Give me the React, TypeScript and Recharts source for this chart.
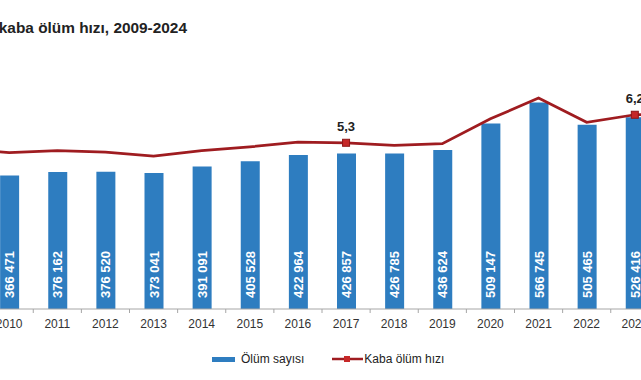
import React from "react";
import { ComposedChart, Bar, Line, XAxis, YAxis, LabelList } from "recharts";

document.body.style.margin = "0";

/* ---------- data ---------- */
const years = [
  "2009", "2010", "2011", "2012", "2013", "2014", "2015", "2016",
  "2017", "2018", "2019", "2020", "2021", "2022", "2023", "2024",
];
// Ölüm sayısı (2009 and 2024 are outside the visible crop, estimated)
const deaths = [
  368390, 366471, 376162, 376520, 373041, 391091, 405528, 422964,
  426857, 426785, 436624, 509147, 566745, 505465, 526416, 532000,
];
// Kaba ölüm hızı (binde)
const crudeRate = [
  5.08, 4.97, 5.03, 4.98, 4.86, 5.03, 5.15, 5.3,
  5.28, 5.2, 5.25, 6.04, 6.7, 5.93, 6.17, 6.2,
];
const labelledYears = ["2017", "2023"];

const data = years.map((year, i) => ({
  year,
  deaths: deaths[i],
  rate: crudeRate[i],
  rateLabel: labelledYears.includes(year) ? crudeRate[i] : null,
}));

/* ---------- layout ---------- */
const FONT = "'Liberation Sans', Arial, sans-serif";
const CHART_W = 770;
const CHART_LEFT = -63;
const BAND = CHART_W / years.length;
const BAR_BLUE = "#2e7dc0";
const LINE_RED = "#9f1c20";
const MARK_RED = "#c62828";

const fmtThousands = (v: number) =>
  String(v).replace(/\B(?=(\d{3})+(?!\d))/g, " ");

/* ---------- custom pieces ---------- */
const YearTick = (props: any) => {
  const { x, y, payload } = props;
  const tx = x - BAND / 2;
  return (
    <g>
      <line x1={tx} x2={tx} y1={y - 6} y2={y - 2} stroke="#a6a6a6" />
      <text
        x={x}
        y={y + 13}
        textAnchor="middle"
        fontSize={12}
        fontFamily={FONT}
        fill="#333"
      >
        {payload.value}
      </text>
    </g>
  );
};

const DeathsLabel = (props: any) => {
  const vb = props.viewBox ?? props;
  const { x, y, width, height } = vb;
  const cx = x + width / 2;
  const by = y + height - 11;
  return (
    <text
      x={cx}
      y={by}
      transform={`rotate(-90 ${cx} ${by})`}
      textAnchor="start"
      dominantBaseline="central"
      fill="#fff"
      fontSize={13}
      fontWeight="bold"
      fontFamily={FONT}
    >
      {fmtThousands(props.value)}
    </text>
  );
};

const RateLabel = (props: any) => {
  const { x, y, value } = props;
  if (value == null) return null;
  return (
    <text
      x={x}
      y={y - 12}
      textAnchor="middle"
      fill="#222"
      fontSize={13}
      fontWeight="bold"
      fontFamily={FONT}
    >
      {Number(value).toFixed(1).replace(".", ",")}
    </text>
  );
};

const RateDot = (props: any) => {
  const { cx, cy, payload, index } = props;
  if (!labelledYears.includes(payload.year)) return <g key={`d${index}`} />;
  return (
    <rect
      key={`d${index}`}
      x={cx - 3.5}
      y={cy - 3.5}
      width={7}
      height={7}
      fill={MARK_RED}
      stroke="#8e1616"
      strokeWidth={1}
    />
  );
};

const ChartLegend = () => (
  <div
    style={{
      position: "absolute",
      left: 212,
      top: 351,
      display: "flex",
      alignItems: "center",
      fontFamily: FONT,
      fontSize: 12,
      color: "#222",
      height: 16,
    }}
  >
    <span style={{ width: 23, height: 5, background: BAR_BLUE, marginRight: 6 }} />
    <span>Ölüm sayısı</span>
    <svg width={31} height={8} style={{ marginLeft: 28, marginRight: 1 }}>
      <line x1={0} x2={31} y1={4} y2={4} stroke={LINE_RED} strokeWidth={2.5} />
      <rect x={12} y={1} width={6} height={6} fill={MARK_RED} />
    </svg>
    <span>Kaba ölüm hızı</span>
  </div>
);

/* ---------- component ---------- */
export default function App() {
  return (
    <div
      style={{
        position: "relative",
        width: 641,
        height: 380,
        overflow: "hidden",
        background: "#fff",
      }}
    >
      <div
        style={{
          position: "absolute",
          right: 454,
          top: 19,
          whiteSpace: "nowrap",
          fontFamily: FONT,
          fontSize: 15.4,
          fontWeight: "bold",
          color: "#222",
        }}
      >
        Ölüm sayısı ve kaba ölüm hızı, 2009-2024
      </div>
      <div style={{ position: "absolute", left: CHART_LEFT, top: 0 }}>
        <ComposedChart
          width={CHART_W}
          height={380}
          data={data}
          margin={{ top: 54, right: 0, bottom: 41, left: 0 }}
        >
          <XAxis
            dataKey="year"
            height={30}
            tickSize={4}
            tickMargin={2}
            tickLine={false}
            axisLine={{ stroke: "#a6a6a6" }}
            tick={<YearTick />}
            interval={0}
          />
          <YAxis yAxisId="left" hide domain={[0, 700000]} />
          <YAxis yAxisId="right" hide domain={[0, 8.1]} orientation="right" />
          <Bar
            yAxisId="left"
            dataKey="deaths"
            fill={BAR_BLUE}
            barSize={19}
            isAnimationActive={false}
          >
            <LabelList dataKey="deaths" content={<DeathsLabel />} />
          </Bar>
          <Line
            yAxisId="right"
            type="linear"
            dataKey="rate"
            stroke={LINE_RED}
            strokeWidth={2.75}
            dot={RateDot}
            activeDot={false}
            isAnimationActive={false}
          >
            <LabelList dataKey="rateLabel" content={<RateLabel />} />
          </Line>
        </ComposedChart>
      </div>
      <ChartLegend />
    </div>
  );
}
